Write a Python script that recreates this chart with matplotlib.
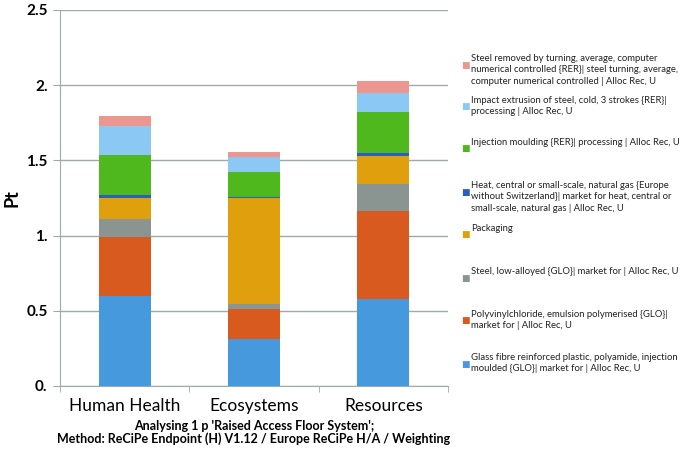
import matplotlib.pyplot as plt
import numpy as np

plt.rcParams['font.family'] = ['Lato', 'DejaVu Sans']

categories = ['Human Health', 'Ecosystems', 'Resources']

# stacked contributions, bottom to top (Pt)
glass_fibre = [0.60, 0.31, 0.578]
pvc = [0.39, 0.205, 0.583]
steel_low = [0.12, 0.03, 0.18]
packaging = [0.14, 0.705, 0.188]
heat = [0.018, 0.007, 0.02]
injection = [0.27, 0.168, 0.273]
extrusion = [0.19, 0.10, 0.124]
turning = [0.07, 0.03, 0.08]

series = [glass_fibre, pvc, steel_low, packaging, heat, injection, extrusion, turning]
colors = ['#4699dd', '#d95a1e', '#8a9490', '#e0a00e', '#2a5fc0', '#4fb81c', '#8cc8f4', '#ec9690']
labels = [
    "Glass fibre reinforced plastic, polyamide, injection\nmoulded {GLO}| market for | Alloc Rec, U",
    "Polyvinylchloride, emulsion polymerised {GLO}|\nmarket for | Alloc Rec, U",
    "Steel, low-alloyed {GLO}| market for | Alloc Rec, U",
    "Packaging",
    "Heat, central or small-scale, natural gas {Europe\nwithout Switzerland}| market for heat, central or\nsmall-scale, natural gas | Alloc Rec, U",
    "Injection moulding {RER}| processing | Alloc Rec, U",
    "Impact extrusion of steel, cold, 3 strokes {RER}|\nprocessing | Alloc Rec, U",
    "Steel removed by turning, average, computer\nnumerical controlled {RER}| steel turning, average,\ncomputer numerical controlled | Alloc Rec, U",
]
yticks = [0, 0.5, 1.0, 1.5, 2.0, 2.5]
ytick_labels = ['0.', '0.5', '1.', '1.5', '2.', '2.5']

fig = plt.figure(figsize=(6.85, 4.53), dpi=100)
ax = fig.add_axes([0.0876, 0.148, 0.5664, 0.83])

x = np.arange(len(categories))
bottom = np.zeros(len(categories))
for vals, c in zip(series, colors):
    ax.bar(x, vals, width=0.4, bottom=bottom, color=c, zorder=3)
    bottom += np.array(vals)

ax.set_xlim(-0.5, 2.5)
ax.set_ylim(0, 2.5)
ax.set_yticks(yticks)
ax.set_yticklabels(ytick_labels, fontsize=11, fontweight='bold')
ax.set_xticks(x)
ax.set_xticklabels(categories, fontsize=12.5)
ax.set_xticks([-0.5, 0.5, 1.5, 2.5], minor=True)
ax.tick_params(axis='x', which='major', length=0, pad=9)
ax.tick_params(axis='x', which='minor', length=4, color='#a0a8a8')
ax.tick_params(axis='y', length=5, color='#a0a8a8', pad=4)
ax.grid(axis='y', color='#a0a8a8', linewidth=1, zorder=0)
for s in ['top', 'right']:
    ax.spines[s].set_visible(False)
for s in ['left', 'bottom']:
    ax.spines[s].set_color('#a0a8a8')
ax.set_ylabel('Pt', fontsize=13, fontweight='bold', labelpad=4)
ax.set_xlabel("Analysing 1 p 'Raised Access Floor System';\nMethod: ReCiPe Endpoint (H) V1.12 / Europe ReCiPe H/A / Weighting",
              fontsize=9, fontweight='bold', labelpad=4, linespacing=1.05)

# legend, top entry first
tops = [60, 102, 144, 187, 230, 273, 316, 359]
for i, top in enumerate(tops):
    k = len(series) - 1 - i
    y = 1 - top / 453
    fig.text(465 / 685, 1 - (top + 5) / 453, '\u25a0', color=colors[k], fontsize=6.5,
             va='center', ha='center', family='DejaVu Sans')
    fig.text(471 / 685, y + 6 / 453, labels[k], fontsize=6.8, va='top', ha='left',
             linespacing=1.34, color='#222222')

fig.savefig('out.png', dpi=100)
